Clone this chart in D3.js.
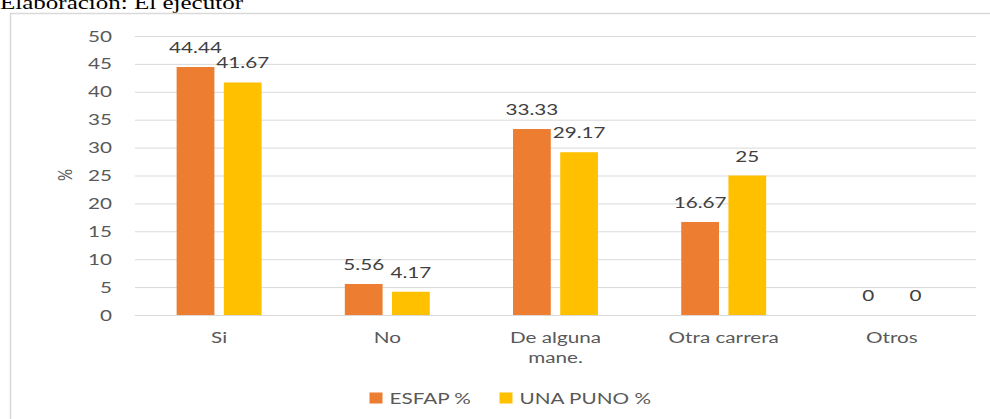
<!DOCTYPE html>
<html>
<head>
<meta charset="utf-8">
<script src="https://cdn.jsdelivr.net/npm/d3@7"></script>
<style>
  body { margin: 0; background: #fff; }
  svg { display: block; }
</style>
</head>
<body>
<div id="chart"></div>
<script>
// Data
var categories = ["Si", "No", "De alguna mane.", "Otra carrera", "Otros"];
var categoryLines = [["Si"], ["No"], ["De alguna", "mane."], ["Otra carrera"], ["Otros"]];
var seriesNames = ["ESFAP %", "UNA PUNO %"];
var esfap = [44.44, 5.56, 33.33, 16.67, 0];
var unaPuno = [41.67, 4.17, 29.17, 25, 0];
var valueLabels = [["44.44", "5.56", "33.33", "16.67", "0"], ["41.67", "4.17", "29.17", "25", "0"]];
var yTicks = [0, 5, 10, 15, 20, 25, 30, 35, 40, 45, 50];

var colors = ["#ED7D31", "#FFC000"];
var W = 990, H = 419;
var sx = 1.38; // the picture is stretched sideways
var font = "Lato, 'Open Sans', sans-serif";

var svg = d3.select("#chart").append("svg")
    .attr("width", W)
    .attr("height", H);

// caption above the frame (cut at the top)
svg.append("text")
    .attr("x", 0)
    .attr("y", 9)
    .attr("textLength", 243)
    .attr("lengthAdjust", "spacingAndGlyphs")
    .style("font", "18px 'Liberation Serif', serif")
    .attr("fill", "#000")
    .text("Elaboración: El ejecutor");

// chart frame
svg.append("path")
    .attr("d", "M10.5," + H + "V13.5H" + W)
    .attr("fill", "none")
    .attr("stroke", "#d9d9d9")
    .attr("stroke-width", 1.5);

var plotLeft = 135, plotRight = 976, plotTop = 36, plotBottom = 315;

var x0 = d3.scaleBand()
    .domain(categories)
    .range([plotLeft, plotRight])
    .paddingInner(0.495)
    .paddingOuter(0.2475);

var x1 = d3.scaleBand()
    .domain(seriesNames)
    .range([0, x0.bandwidth()])
    .paddingInner(0.2);

var y = d3.scaleLinear().domain([0, 50]).range([plotBottom, plotTop]);

// stretched text helper
function stext(g, x, yy, str, anchor, size, fill) {
    return g.append("text")
        .attr("transform", "translate(" + x + "," + yy + ") scale(" + sx + ",1)")
        .attr("text-anchor", anchor)
        .style("font", size + "px " + font)
        .attr("fill", fill)
        .text(str);
}

// gridlines via axis
var yAxis = svg.append("g")
    .attr("transform", "translate(" + plotLeft + ",0)")
    .call(d3.axisLeft(y).tickValues(yTicks).tickSize(-(plotRight - plotLeft)).tickFormat(""));
yAxis.select(".domain").remove();
yAxis.selectAll(".tick line").attr("stroke", "#d9d9d9").attr("stroke-width", 1);

// y tick labels
yTicks.forEach(function (t) {
    stext(svg, 112, y(t) + 5.5, String(t), "end", 15, "#595959");
});

// y axis title
svg.append("text")
    .attr("transform", "translate(72,175) rotate(-90) scale(1,1.3)")
    .attr("text-anchor", "middle")
    .style("font", "15px " + font)
    .attr("fill", "#595959")
    .text("%");

// bars
var seriesData = [esfap, unaPuno];
seriesData.forEach(function (vals, s) {
    var g = svg.append("g");
    g.selectAll("rect")
        .data(vals)
        .enter().append("rect")
        .attr("x", function (d, i) { return x0(categories[i]) + x1(seriesNames[s]); })
        .attr("y", function (d) { return y(d); })
        .attr("width", x1.bandwidth())
        .attr("height", function (d) { return y(0) - y(d); })
        .attr("fill", colors[s]);
    vals.forEach(function (d, i) {
        stext(g, x0(categories[i]) + x1(seriesNames[s]) + x1.bandwidth() / 2,
            y(d) - 14, valueLabels[s][i], "middle", 15, "#404040");
    });
});

// category labels
categories.forEach(function (c, i) {
    categoryLines[i].forEach(function (line, k) {
        stext(svg, x0(c) + x0.bandwidth() / 2, 343 + k * 20, line, "middle", 15, "#595959");
    });
});

// legend
var legendX = [369.5, 499.5];
seriesNames.forEach(function (name, s) {
    svg.append("rect")
        .attr("x", legendX[s])
        .attr("y", 392.5)
        .attr("width", 13)
        .attr("height", 11)
        .attr("fill", colors[s]);
    stext(svg, legendX[s] + 20, 403.5, name, "start", 15, "#595959");
});
</script>
</body>
</html>
